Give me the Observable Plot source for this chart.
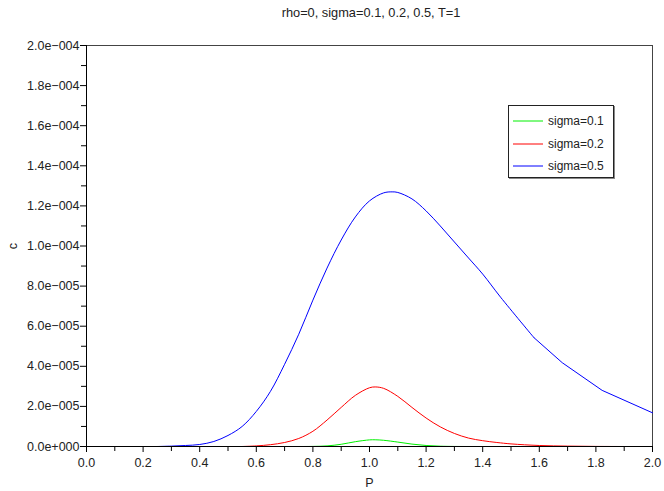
<!DOCTYPE html>
<html>
<head>
<meta charset="utf-8">
<script src="https://cdn.jsdelivr.net/npm/d3@7"></script>
<script src="https://cdn.jsdelivr.net/npm/@observablehq/plot@0.6"></script>
<style>
  html, body { margin: 0; padding: 0; background: #fff; }
  #wrap { position: relative; width: 664px; height: 491px; font-family: "Liberation Sans", Arial, sans-serif; }
  #title { position: absolute; left: 88px; width: 566px; top: 5px; text-align: center; font-size: 12.8px; color: #222; }
  #legend { position: absolute; left: 508px; top: 105px; width: 104px; height: 71px; border: 1px solid #222; box-shadow: 1px 1px 0 #888; background: #fff; font-size: 12px; color: #222; }
  .item { position: absolute; left: 4px; height: 14px; display: flex; align-items: center; }
  .item svg { margin-right: 5px; }
</style>
</head>
<body>
<div id="wrap">
  <div id="chart"></div>
  <div id="title">rho=0, sigma=0.1, 0.2, 0.5, T=1</div>
  <div id="legend"></div>
</div>
<script>
// ---- data ----
const seriesNames = ["sigma=0.1", "sigma=0.2", "sigma=0.5"];
const seriesColors = ["#00f000", "#ff0000", "#0000ff"];

// sigma=0.1 : P values and c values
const p1 = [0.75, 0.80, 0.85, 0.90, 0.95, 1.00, 1.02, 1.05, 1.10, 1.15, 1.20, 1.25, 1.30, 1.40];
const c1 = [0, 0.05e-6, 0.3e-6, 1.1e-6, 2.4e-6, 3.3e-6, 3.35e-6, 3.1e-6, 2.2e-6, 1.2e-6, 0.5e-6, 0.15e-6, 0.03e-6, 0];

// sigma=0.2
const p2 = [0.55, 0.60, 0.65, 0.70, 0.75, 0.80, 0.85, 0.90, 0.95, 1.00, 1.02, 1.05, 1.10, 1.15, 1.20, 1.25, 1.30, 1.35, 1.40, 1.45, 1.50, 1.60, 1.70, 1.80, 1.90];
const c2 = [0, 0.03e-5, 0.09e-5, 0.2e-5, 0.4e-5, 0.76e-5, 1.32e-5, 1.95e-5, 2.55e-5, 2.93e-5, 2.97e-5, 2.9e-5, 2.5e-5, 1.95e-5, 1.42e-5, 0.98e-5, 0.65e-5, 0.42e-5, 0.29e-5, 0.2e-5, 0.13e-5, 0.05e-5, 0.02e-5, 0.005e-5, 0];

// sigma=0.5 (smooth part, then coarse polyline tail)
const p3 = [0.25, 0.30, 0.35, 0.40, 0.45, 0.50, 0.55, 0.60, 0.65, 0.70, 0.75, 0.80, 0.85, 0.90, 0.95, 1.00, 1.05, 1.08, 1.10, 1.15, 1.20, 1.25, 1.30, 1.35, 1.40, 1.463, 1.581];
const c3 = [0, 0.02e-5, 0.05e-5, 0.1e-5, 0.25e-5, 0.55e-5, 1.0e-5, 1.75e-5, 2.75e-5, 4.1e-5, 5.6e-5, 7.3e-5, 8.9e-5, 10.3e-5, 11.45e-5, 12.25e-5, 12.65e-5, 12.7e-5, 12.67e-5, 12.35e-5, 11.75e-5, 11.0e-5, 10.2e-5, 9.4e-5, 8.6e-5, 7.45e-5, 5.43e-5];
const p3tail = [1.581, 1.681, 1.822, 2.00];
const c3tail = [5.43e-5, 4.18e-5, 2.8e-5, 1.68e-5];

// ticks
const xTicks = [0, 0.2, 0.4, 0.6, 0.8, 1.0, 1.2, 1.4, 1.6, 1.8, 2.0];
const xMinor = [0.1, 0.3, 0.5, 0.7, 0.9, 1.1, 1.3, 1.5, 1.7, 1.9];
const yTicks = [0, 2e-5, 4e-5, 6e-5, 8e-5, 1e-4, 1.2e-4, 1.4e-4, 1.6e-4, 1.8e-4, 2e-4];
const yMinor = [1e-5, 3e-5, 5e-5, 7e-5, 9e-5, 1.1e-4, 1.3e-4, 1.5e-4, 1.7e-4, 1.9e-4];

// ---- build tables ----
const rows = [];
[[p1, c1], [p2, c2], [p3, c3]].forEach(([ps, cs], i) => {
  ps.forEach((p, j) => rows.push({P: p, c: cs[j], s: seriesNames[i]}));
});
const tail = p3tail.map((p, j) => ({P: p, c: c3tail[j], s: seriesNames[2]}));

const sciFmt = d => d3.format(".1e")(d).replace(/e([+-])(\d+)/, (m, s, n) => "e" + (s === "-" ? "\u2212" : "+") + n.padStart(3, "0"));

const chart = Plot.plot({
  width: 664,
  height: 491,
  marginLeft: 86,
  marginRight: 12,
  marginTop: 45,
  marginBottom: 45,
  style: {fontFamily: "'Liberation Sans', Arial, sans-serif", fontSize: "12.5px", color: "#222", background: "#fff"},
  x: {domain: [0, 2]},
  y: {domain: [0, 2e-4]},
  color: {domain: seriesNames, range: seriesColors},
  marks: [
    Plot.frame({stroke: "#444"}),
    Plot.line(rows, {x: "P", y: "c", z: "s", stroke: "s", strokeWidth: 1, curve: "catmull-rom"}),
    Plot.line(tail, {x: "P", y: "c", stroke: "s", strokeWidth: 1}),
    Plot.ruleY([0], {stroke: "#000"}),
    Plot.ruleX([0], {stroke: "#000"}),
    Plot.axisX(xTicks, {tickSize: 6, tickPadding: 6, tickFormat: d => d.toFixed(1), label: "P", labelAnchor: "center", labelArrow: "none", labelOffset: 40, stroke: "#000"}),
    Plot.axisX(xMinor, {tickSize: 5, tickFormat: () => "", label: null, stroke: "#000"}),
    Plot.axisY(yTicks, {tickSize: 6, tickPadding: 1, tickFormat: sciFmt, label: "c", labelAnchor: "center", labelArrow: "none", labelOffset: 78, stroke: "#000"}),
    Plot.axisY(yMinor, {tickSize: 5, tickFormat: () => "", label: null, stroke: "#000"})
  ]
});
document.getElementById("chart").appendChild(chart);

// ---- legend ----
const leg = document.getElementById("legend");
seriesNames.forEach((name, i) => {
  const d = document.createElement("div");
  d.className = "item";
  d.style.top = (8 + i * 22.5) + "px";
  d.innerHTML = `<svg width="30" height="4"><line x1="0" x2="30" y1="2" y2="2" stroke="${seriesColors[i]}" stroke-width="1"/></svg><span>${name}</span>`;
  leg.appendChild(d);
});
</script>
</body>
</html>
